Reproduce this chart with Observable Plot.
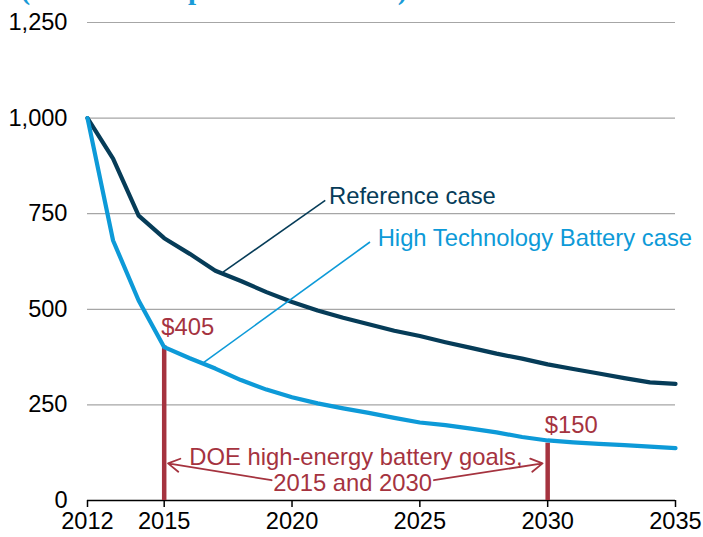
<!DOCTYPE html>
<html>
<head>
<meta charset="utf-8">
<script src="https://cdn.jsdelivr.net/npm/d3@7"></script>
<script src="https://cdn.jsdelivr.net/npm/@observablehq/plot@0.6"></script>
<style>
  html, body { margin: 0; padding: 0; background: #fff; }
  #chart { width: 703px; height: 537px; overflow: hidden; }
</style>
</head>
<body>
<div id="chart"></div>
<script>
// ---- data ----
const years = [2012, 2013, 2014, 2015, 2016, 2017, 2018, 2019, 2020, 2021, 2022, 2023,
               2024, 2025, 2026, 2027, 2028, 2029, 2030, 2031, 2032, 2033, 2034, 2035];
const referenceCase = [1000, 894, 745, 686, 645, 601, 574, 545, 519, 497, 478, 461,
                       444, 430, 414, 399, 384, 371, 356, 344, 332, 320, 309, 305];
const highTechCase = [1000, 680, 523, 401, 372, 345, 315, 290, 270, 254, 241, 229,
                      216, 204, 197, 188, 178, 166, 157, 152, 148, 145, 141, 137];
const goalYears = [2015, 2030];
const goalValues = [405, 150];
const goalLabels = ["$405", "$150"];
const seriesNames = ["Reference case", "High Technology Battery case"];
const yTicks = [0, 250, 500, 750, 1000, 1250];
const xTicks = [2012, 2015, 2020, 2025, 2030, 2035];
const titleText = ["(2012 dollars per kilowatthour)"];
const goalNote = ["DOE high-energy battery goals,", "2015 and 2030"];
// annotation anchors (data units)
const refLeader = {x1: 2017.3, y1: 597, x2: 2021.3, y2: 785};
const htbLeader = {x1: 2016.55, y1: 361, x2: 2023.05, y2: 676};
const noteArrows = [
  {x1: 2019.2, y1: 53, x2: 2015.15, y2: 97},
  {x1: 2025.55, y1: 53, x2: 2029.8, y2: 97}
];

const refData = years.map((y, i) => ({year: y, value: referenceCase[i]}));
const htbData = years.map((y, i) => ({year: y, value: highTechCase[i]}));
const goals = goalYears.map((y, i) => ({year: y, value: goalValues[i], label: goalLabels[i]}));

const NAVY = "#063c58";
const BLUE = "#0d9ad8";
const RED = "#a5333f";
const FONT = "'Liberation Sans', Arial, sans-serif";
const TICK_FS = 23.6;
const ANN_FS = 23.8;

const chart = Plot.plot({
  width: 703,
  height: 537,
  marginLeft: 87,
  marginRight: 28,
  marginTop: 22,
  marginBottom: 37,
  style: {fontFamily: FONT, fontSize: TICK_FS + "px", color: "#000", background: "#fff", overflow: "hidden"},
  x: {domain: [2012, 2035]},
  y: {domain: [0, 1250]},
  marks: [
    Plot.gridY(yTicks.filter(d => d > 0), {stroke: "#a6a6a6", strokeOpacity: 1, strokeWidth: 1.2}),
    Plot.axisY(yTicks, {tickSize: 0, tickPadding: 20, tickFormat: d3.format(","), label: null, fontSize: TICK_FS}),
    Plot.axisX(xTicks, {tickSize: 7, tickPadding: 5, tickFormat: d => String(d), label: null, fontSize: TICK_FS, stroke: "#000", strokeWidth: 1.5}),
    Plot.ruleY([0], {stroke: "#000", strokeWidth: 1.5}),
    // clipped title at the very top
    Plot.text(titleText, {frameAnchor: "top-left", text: d => d, dx: -67, dy: -44, lineAnchor: "top", textAnchor: "start",
      fill: "#1a9bd7", fontFamily: "'Liberation Serif', 'Times New Roman', serif", fontWeight: "bold", fontSize: 29}),
    // goal bars
    Plot.ruleX(goals, {x: "year", y1: 0, y2: "value", stroke: RED, strokeWidth: 4.5}),
    // series lines
    Plot.line(refData, {x: "year", y: "value", stroke: NAVY, strokeWidth: 4.2, strokeLinejoin: "round"}),
    Plot.line(htbData, {x: "year", y: "value", stroke: BLUE, strokeWidth: 4.2, strokeLinejoin: "round"}),
    // leaders
    Plot.link([refLeader], {x1: "x1", y1: "y1", x2: "x2", y2: "y2", stroke: NAVY, strokeWidth: 1.6}),
    Plot.link([htbLeader], {x1: "x1", y1: "y1", x2: "x2", y2: "y2", stroke: BLUE, strokeWidth: 1.6}),
    Plot.text([seriesNames[0]], {x: 2021.45, y: 795, text: d => d, textAnchor: "start", fill: NAVY, fontSize: ANN_FS}),
    Plot.text([seriesNames[1]], {x: 2023.35, y: 685, text: d => d, textAnchor: "start", fill: BLUE, fontSize: ANN_FS}),
    // goal labels
    Plot.text(goals, {x: "year", y: "value", text: "label", textAnchor: "start", dx: -3, dy: -18, fill: RED, fontSize: ANN_FS}),
    // note
    Plot.text([goalNote[0]], {x: 2022.5, y: 112, text: d => d, fill: RED, fontSize: ANN_FS}),
    Plot.text([goalNote[1]], {x: 2022.37, y: 44, text: d => d, fill: RED, fontSize: ANN_FS}),
    Plot.arrow(noteArrows, {x1: "x1", y1: "y1", x2: "x2", y2: "y2", stroke: RED, strokeWidth: 1.8, bend: 0, headLength: 11})
  ]
});
document.getElementById("chart").appendChild(chart);
</script>
</body>
</html>
